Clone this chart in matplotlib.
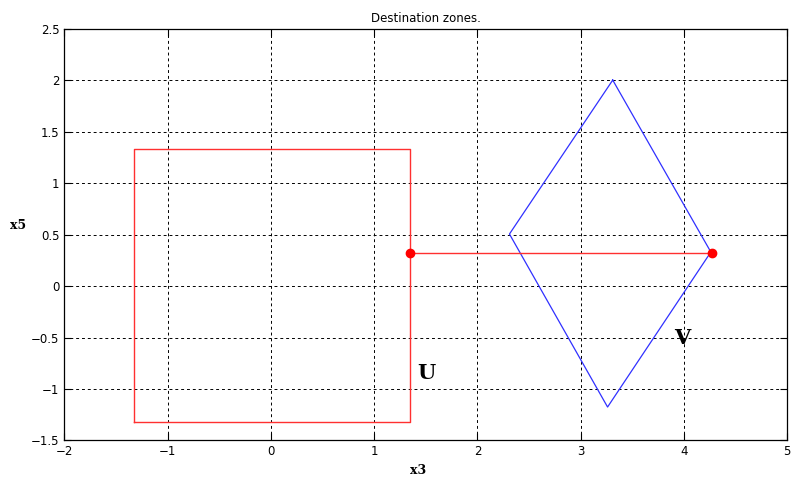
import matplotlib
matplotlib.use("Agg")
import matplotlib.pyplot as plt
from matplotlib.font_manager import FontProperties

# Zone U (rectangle)
u_x = [-1.33, 1.345, 1.345, -1.33, -1.33]
u_y = [-1.32, -1.32, 1.33, 1.33, -1.32]

# Zone V (diamond)
v_x = [3.31, 4.26, 3.26, 2.31, 3.31]
v_y = [2.0, 0.33, -1.175, 0.505, 2.0]

# segment between the two zones
seg_x = [1.345, 4.27]
seg_y = [0.317, 0.317]

xticks = [-2, -1, 0, 1, 2, 3, 4, 5]
yticks = [-1.5, -1, -0.5, 0, 0.5, 1, 1.5, 2, 2.5]

fig = plt.figure(figsize=(7.91, 4.84), dpi=100)
ax = fig.add_axes([0.0813, 0.0899, 0.9140, 0.8510])

ax.plot(u_x, u_y, color="#ff3030", lw=1.0)
ax.plot(v_x, v_y, color="#3030ff", lw=0.9)
ax.plot(seg_x, seg_y, color="#ff3030", lw=1.0, marker="o", ms=6,
        markerfacecolor="red", markeredgecolor="red")

slab = FontProperties(family="DejaVu Serif", weight="bold", size=15)
ax.text(1.42, -0.84, "U", fontproperties=slab, va="center", ha="left")
ax.text(3.9, -0.5, "V", fontproperties=slab, va="center", ha="left")

def lab(t):
    return ("%g" % t).replace("-", "\u2212")

ax.set_xlim(-2, 5)
ax.set_ylim(-1.5, 2.5)
ax.set_xticks(xticks)
ax.set_yticks(yticks)
ax.set_xticklabels([lab(t) for t in xticks])
ax.set_yticklabels([lab(t) for t in yticks])
ax.tick_params(direction="in", top=True, right=True, labelsize=8.5, length=5,
               width=0.8, colors="black")
ax.grid(True, color="black", linestyle=(0, (3, 3)), lw=0.7)
for s in ax.spines.values():
    s.set_linewidth(0.9)

ax.set_title("Destination zones.", fontsize=8.5, pad=5)
ax.set_xlabel("x3", fontsize=9, fontweight="bold", family="DejaVu Serif")
ax.set_ylabel("x5", fontsize=9, fontweight="bold", family="DejaVu Serif",
              rotation=0, va="center")
ax.xaxis.set_label_coords(0.489, -0.058)
ax.yaxis.set_label_coords(-0.064, 0.523)

fig.savefig("out.png", dpi=100)
